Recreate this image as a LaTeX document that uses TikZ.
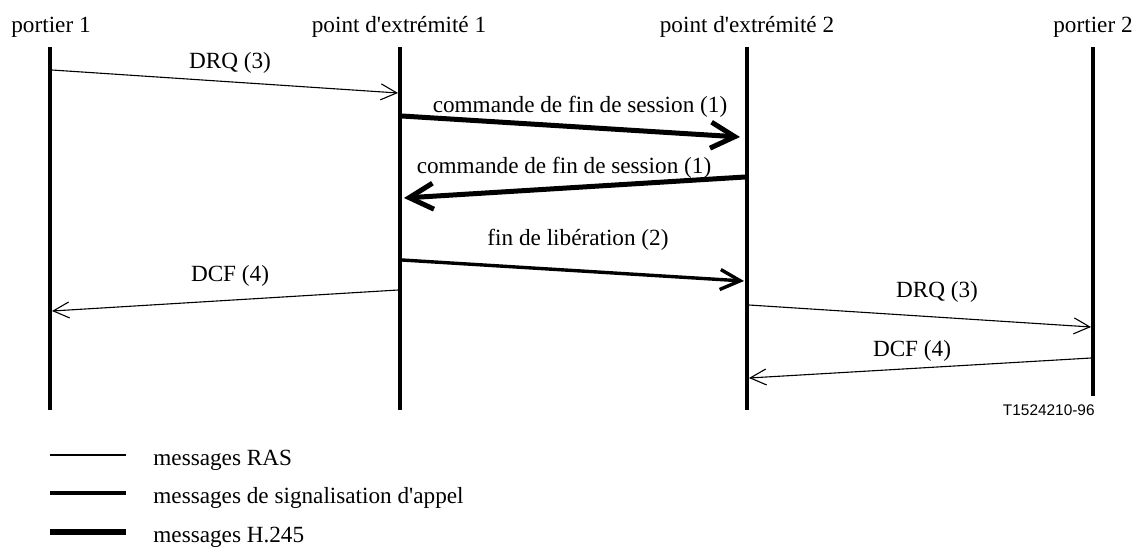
\documentclass[tikz,border=0pt]{standalone}
\usepackage{fontspec}
\setmainfont{Liberation Serif}[Ligatures=TeXOff]
\setsansfont{Liberation Sans}
\usetikzlibrary{arrows.meta}
\begin{document}
\begin{tikzpicture}[x=0.5pt,y=-0.5pt,
  lifeline/.style={line width=2pt},
  ras/.style={line width=0.55pt,-{Straight Barb[length=8pt,width=8pt]}},
  sig/.style={line width=1.7pt,-{Straight Barb[length=10pt,width=10pt]}},
  hmsg/.style={line width=2.5pt,-{Straight Barb[length=12pt,width=13pt]}},
  lbl/.style={font=\fontsize{11.6}{13}\selectfont, inner sep=0pt, anchor=base},
  leg/.style={font=\fontsize{11.6}{13}\selectfont, inner sep=0pt, anchor=base west},
  tag/.style={font=\sffamily\fontsize{7.7}{9}\selectfont, inner sep=0pt, anchor=base east}
]
\useasboundingbox (0,0) rectangle (1140,547);
% headers
\node[lbl] (h1) at (51,32) {portier 1};
\node[lbl] (h2) at (399,32) {point d'extrémité 1};
\node[lbl] (h3) at (747,32) {point d'extrémité 2};
\node[lbl] (h4) at (1093,32) {portier 2};
% lifelines
\coordinate (l1t) at (50,47);   \coordinate (l1b) at (50,410);
\coordinate (l2t) at (400,47);  \coordinate (l2b) at (400,410);
\coordinate (l3t) at (747,47);  \coordinate (l3b) at (747,410);
\coordinate (l4t) at (1093,47); \coordinate (l4b) at (1093,396);
\draw[lifeline] (l1t) -- (l1b);
\draw[lifeline] (l2t) -- (l2b);
\draw[lifeline] (l3t) -- (l3b);
\draw[lifeline] (l4t) -- (l4b);
% message end points
\coordinate (m1s) at (52,70);    \coordinate (m1e) at (398,93);
\coordinate (m2s) at (402,116);  \coordinate (m2e) at (740,137);
\coordinate (m3s) at (745,177);  \coordinate (m3e) at (404,198);
\coordinate (m4s) at (402,260);  \coordinate (m4e) at (744,281);
\coordinate (m5s) at (398,290);  \coordinate (m5e) at (52,311);
\coordinate (m6s) at (749,305);  \coordinate (m6e) at (1091,327);
\coordinate (m7s) at (1091,358); \coordinate (m7e) at (749,378);
% messages
\draw[ras] (m1s) -- (m1e);
\draw[hmsg] (m2s) -- (m2e);
\draw[hmsg] (m3s) -- (m3e);
\draw[sig] (m4s) -- (m4e);
\draw[ras] (m5s) -- (m5e);
\draw[ras] (m6s) -- (m6e);
\draw[ras] (m7s) -- (m7e);
% labels
\node[lbl] (t1) at (230,68) {DRQ (3)};
\node[lbl] (t2) at (580,112) {commande de fin de session (1)};
\node[lbl] (t3) at (564,173) {commande de fin de session (1)};
\node[lbl] (t4) at (578,245) {fin de libération (2)};
\node[lbl] (t5) at (230,281) {DCF (4)};
\node[lbl] (t6) at (937,297) {DRQ (3)};
\node[lbl] (t7) at (912,356) {DCF (4)};
\node[tag] (ref) at (1095,415) {T1524210-96};
% legend
\coordinate (g1a) at (50,455); \coordinate (g1b) at (126,455);
\coordinate (g2a) at (50,493); \coordinate (g2b) at (126,493);
\coordinate (g3a) at (50,532); \coordinate (g3b) at (126,532);
\draw[line width=0.9pt] (g1a) -- (g1b);
\draw[line width=1.9pt] (g2a) -- (g2b);
\draw[line width=2.9pt] (g3a) -- (g3b);
\node[leg] (k1) at (153,465) {messages RAS};
\node[leg] (k2) at (153,503) {messages de signalisation d'appel};
\node[leg] (k3) at (153,542) {messages H.245};
\end{tikzpicture}
\end{document}
